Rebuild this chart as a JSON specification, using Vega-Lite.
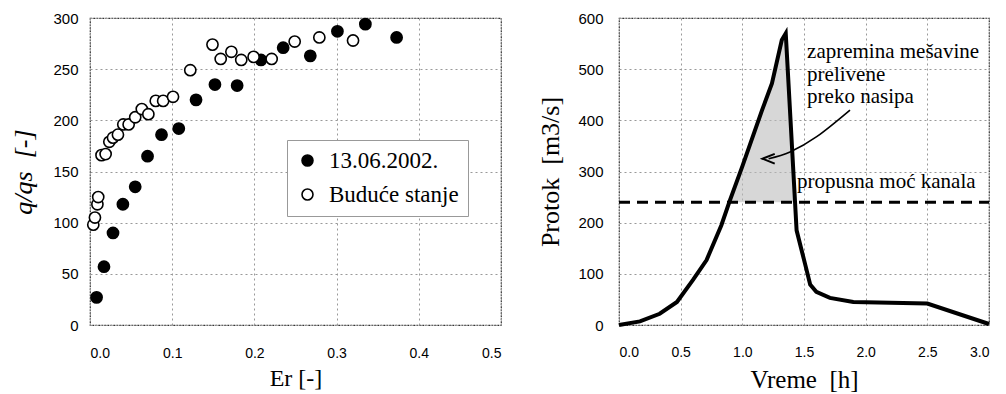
{
  "$schema": "https://vega.github.io/schema/vega-lite/v6.json",
  "background": "white",
  "padding": {"left": 10, "top": 10, "right": 5, "bottom": 0},
  "spacing": 118,
  "bounds": "flush",
  "config": {
    "view": {"stroke": "#333", "strokeDash": [2, 1], "strokeWidth": 1.2},
    "axis": {
      "domain": false, "ticks": false, "grid": true,
      "gridColor": "#999", "gridDash": [2, 3], "gridWidth": 1,
      "labelFont": "Liberation Sans", "labelColor": "black",
      "titleFont": "Liberation Serif", "titleFontWeight": "normal", "titleColor": "black"
    }
  },
  "datasets": {
    "pts": [
      {"s": "Buduće stanje", "Er": 0.004, "q": 98},
      {"s": "Buduće stanje", "Er": 0.006, "q": 105},
      {"s": "Buduće stanje", "Er": 0.009, "q": 118},
      {"s": "Buduće stanje", "Er": 0.010, "q": 125},
      {"s": "Buduće stanje", "Er": 0.014, "q": 166},
      {"s": "Buduće stanje", "Er": 0.019, "q": 167},
      {"s": "Buduće stanje", "Er": 0.0235, "q": 179},
      {"s": "Buduće stanje", "Er": 0.028, "q": 183},
      {"s": "Buduće stanje", "Er": 0.034, "q": 186},
      {"s": "Buduće stanje", "Er": 0.0405, "q": 196},
      {"s": "Buduće stanje", "Er": 0.047, "q": 196},
      {"s": "Buduće stanje", "Er": 0.055, "q": 203},
      {"s": "Buduće stanje", "Er": 0.063, "q": 211},
      {"s": "Buduće stanje", "Er": 0.071, "q": 206},
      {"s": "Buduće stanje", "Er": 0.080, "q": 219},
      {"s": "Buduće stanje", "Er": 0.089, "q": 219},
      {"s": "Buduće stanje", "Er": 0.101, "q": 223},
      {"s": "Buduće stanje", "Er": 0.122, "q": 249},
      {"s": "Buduće stanje", "Er": 0.149, "q": 274},
      {"s": "Buduće stanje", "Er": 0.159, "q": 260},
      {"s": "Buduće stanje", "Er": 0.172, "q": 267},
      {"s": "Buduće stanje", "Er": 0.184, "q": 259},
      {"s": "Buduće stanje", "Er": 0.199, "q": 262},
      {"s": "Buduće stanje", "Er": 0.221, "q": 260},
      {"s": "Buduće stanje", "Er": 0.249, "q": 277},
      {"s": "Buduće stanje", "Er": 0.279, "q": 281},
      {"s": "Buduće stanje", "Er": 0.320, "q": 278},
      {"s": "13.06.2002.", "Er": 0.008, "q": 27},
      {"s": "13.06.2002.", "Er": 0.017, "q": 57},
      {"s": "13.06.2002.", "Er": 0.028, "q": 90},
      {"s": "13.06.2002.", "Er": 0.040, "q": 118},
      {"s": "13.06.2002.", "Er": 0.055, "q": 135},
      {"s": "13.06.2002.", "Er": 0.070, "q": 165},
      {"s": "13.06.2002.", "Er": 0.087, "q": 186},
      {"s": "13.06.2002.", "Er": 0.108, "q": 192},
      {"s": "13.06.2002.", "Er": 0.129, "q": 220},
      {"s": "13.06.2002.", "Er": 0.152, "q": 235},
      {"s": "13.06.2002.", "Er": 0.179, "q": 234},
      {"s": "13.06.2002.", "Er": 0.208, "q": 259},
      {"s": "13.06.2002.", "Er": 0.235, "q": 271},
      {"s": "13.06.2002.", "Er": 0.268, "q": 263},
      {"s": "13.06.2002.", "Er": 0.301, "q": 287},
      {"s": "13.06.2002.", "Er": 0.335, "q": 294},
      {"s": "13.06.2002.", "Er": 0.373, "q": 281}
    ],
    "hydro": [
      {"t": 0.0, "Q": 0}, {"t": 0.17, "Q": 7}, {"t": 0.33, "Q": 22}, {"t": 0.47, "Q": 45},
      {"t": 0.6, "Q": 88}, {"t": 0.71, "Q": 127}, {"t": 0.83, "Q": 195}, {"t": 0.9, "Q": 244},
      {"t": 1.0, "Q": 310}, {"t": 1.16, "Q": 420}, {"t": 1.24, "Q": 472}, {"t": 1.32, "Q": 557},
      {"t": 1.352, "Q": 570}, {"t": 1.44, "Q": 185}, {"t": 1.51, "Q": 118}, {"t": 1.55, "Q": 79},
      {"t": 1.6, "Q": 65}, {"t": 1.71, "Q": 53}, {"t": 1.9, "Q": 45}, {"t": 2.5, "Q": 42}, {"t": 3.0, "Q": 2}
    ],
    "shade": [
      {"t": 0.897, "Q": 240}, {"t": 0.9, "Q": 244}, {"t": 1.0, "Q": 310}, {"t": 1.16, "Q": 420},
      {"t": 1.24, "Q": 472}, {"t": 1.32, "Q": 557}, {"t": 1.352, "Q": 570}, {"t": 1.415, "Q": 240}
    ],
    "cap": [{"t": 0, "Q": 240}, {"t": 3, "Q": 240}],
    "arrow": [
      {"t": 1.873, "Q": 420}, {"t": 1.603, "Q": 368}, {"t": 1.387, "Q": 338}, {"t": 1.213, "Q": 325}
    ],
    "tip": [{"t": 1.213, "Q": 325}],
    "notes": [
      {"t": 1.525, "Q": 533, "label": "zapremina mešavine"},
      {"t": 1.525, "Q": 488, "label": "prelivene"},
      {"t": 1.525, "Q": 445, "label": "preko nasipa"},
      {"t": 1.444, "Q": 279, "label": "propusna moć kanala"}
    ]
  },
  "hconcat": [
    {
      "width": 411, "height": 307,
      "data": {"name": "pts"},
      "mark": {"type": "point", "shape": "circle", "filled": true, "stroke": "black", "strokeWidth": 1.6, "size": 125, "opacity": 1},
      "encoding": {
        "x": {"field": "Er", "type": "quantitative",
          "scale": {"domain": [0, 0.5], "nice": false, "zero": false},
          "axis": {"title": "Er [-]", "values": [0, 0.1, 0.2, 0.3, 0.4, 0.5], "format": ".1f",
            "labelFontSize": 14, "labelPadding": 21, "titleFontSize": 24, "titlePadding": 6}},
        "y": {"field": "q", "type": "quantitative",
          "scale": {"domain": [0, 300], "nice": false},
          "axis": {"title": "q/qs\u00a0 [-]", "values": [0, 50, 100, 150, 200, 250, 300],
            "labelFontSize": 15, "labelPadding": 12, "titleFontSize": 26, "titleFontStyle": "italic", "titlePadding": 16}},
        "fill": {"field": "s", "type": "nominal",
          "scale": {"domain": ["13.06.2002.", "Buduće stanje"], "range": ["black", "white"]},
          "legend": {"orient": "none", "legendX": 197, "legendY": 122, "title": null,
            "labelFont": "Liberation Serif", "labelFontSize": 23, "labelColor": "black",
            "symbolType": "circle", "symbolSize": 120, "symbolStrokeColor": "black", "symbolStrokeWidth": 1.6,
            "strokeColor": "#999", "fillColor": "white",
            "padding": 9, "rowPadding": 10, "labelOffset": 10, "labelLimit": 300,
            "encode": {"legend": {"update": {"strokeDash": {"value": [2, 2]}}}}}},
        "order": {"field": "s", "type": "nominal", "sort": "ascending"}
      }
    },
    {
      "width": 370, "height": 307,
      "encoding": {
        "x": {"field": "t", "type": "quantitative",
          "scale": {"domain": [0, 3], "nice": false},
          "axis": {"title": "Vreme\u00a0 [h]", "values": [0, 0.5, 1, 1.5, 2, 2.5, 3], "format": ".1f",
            "labelFontSize": 14, "labelPadding": 20, "titleFontSize": 25, "titlePadding": 8}},
        "y": {"field": "Q", "type": "quantitative",
          "scale": {"domain": [0, 600], "nice": false},
          "axis": {"title": "Protok\u00a0 [m3/s]", "values": [0, 100, 200, 300, 400, 500, 600],
            "labelFontSize": 15, "labelPadding": 16, "titleFontSize": 26, "titlePadding": 14}}
      },
      "layer": [
        {"data": {"name": "shade"},
         "mark": {"type": "area", "fill": "#bdbdbd", "opacity": 0.6},
         "encoding": {"y2": {"datum": 240}}},
        {"data": {"name": "cap"},
         "mark": {"type": "line", "color": "black", "strokeWidth": 3, "strokeDash": [11, 7]},
         "encoding": {}},
        {"data": {"name": "hydro"},
         "mark": {"type": "line", "color": "black", "strokeWidth": 4, "strokeJoin": "miter"},
         "encoding": {}},
        {"data": {"name": "arrow"},
         "mark": {"type": "line", "color": "black", "strokeWidth": 1.6, "interpolate": "cardinal"},
         "encoding": {}},
        {"data": {"name": "tip"},
         "mark": {"type": "point", "shape": "M1,-0.8L-1,0L1,0.8", "filled": false, "stroke": "black", "strokeWidth": 2, "size": 150, "opacity": 1},
         "encoding": {}},
        {"data": {"name": "notes"},
         "mark": {"type": "text", "align": "left", "baseline": "middle", "font": "Liberation Serif", "fontSize": 21, "color": "black"},
         "encoding": {"text": {"field": "label"}}}
      ]
    }
  ]
}
